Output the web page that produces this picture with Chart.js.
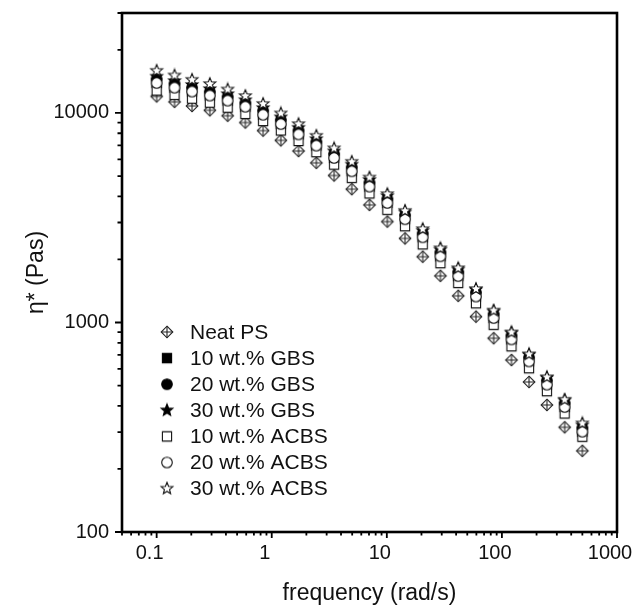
<!DOCTYPE html>
<html lang="en">
<head>
<meta charset="UTF-8">
<title>Complex viscosity vs frequency</title>
<script src="https://cdn.jsdelivr.net/npm/chart.js@4.4.1/dist/chart.umd.min.js"></script>
<style>
  html, body { margin: 0; padding: 0; background: #fff; }
  #wrap { width: 640px; height: 610px; }
</style>
</head>
<body>
<div id="wrap"><canvas id="chart"></canvas></div>
<script>
// frequency sweep (rad/s)
const frequency = [0.1, 0.143, 0.203, 0.29, 0.414, 0.59, 0.841, 1.2, 1.71, 2.44, 3.48, 4.96, 7.07,
                   10.1, 14.4, 20.5, 29.2, 41.7, 59.5, 84.8, 121, 172, 246, 351, 500];

// complex viscosity (Pa.s)
const neatPS   = [12000, 11300, 10800, 10300, 9700, 9000, 8240, 7400, 6580, 5780, 5030, 4330, 3640,
                  3030, 2520, 2060, 1670, 1340, 1066, 841, 662, 520, 404, 316, 244];
const gbs10    = [13900, 13200, 12650, 12100, 11450, 10700, 9800, 8850, 7900, 6980, 6100, 5270, 4450,
                  3720, 3110, 2550, 2070, 1665, 1330, 1050, 830, 652, 505, 395, 301];
const gbs20    = [14500, 13800, 13200, 12600, 11950, 11150, 10250, 9250, 8250, 7280, 6370, 5500, 4650,
                  3890, 3250, 2660, 2160, 1740, 1390, 1095, 865, 680, 528, 412, 314];
const gbs30    = [14900, 14200, 13600, 13000, 12300, 11500, 10550, 9530, 8500, 7500, 6560, 5670, 4790,
                  4010, 3350, 2740, 2225, 1790, 1430, 1128, 890, 700, 544, 424, 323];
const acbs10   = [12800, 12200, 11700, 11200, 10600, 9900, 9150, 8250, 7350, 6500, 5670, 4900, 4130,
                  3450, 2880, 2360, 1920, 1545, 1235, 975, 770, 605, 470, 368, 285];
const acbs20   = [13900, 13200, 12650, 12100, 11450, 10700, 9800, 8850, 7900, 6980, 6100, 5270, 4450,
                  3720, 3110, 2550, 2070, 1665, 1330, 1050, 830, 652, 505, 395, 301];
const acbs30   = [15900, 15100, 14400, 13750, 12950, 12050, 11050, 9950, 8850, 7780, 6780, 5850, 4920,
                  4100, 3410, 2790, 2260, 1815, 1445, 1140, 897, 705, 548, 428, 330];

const seriesNames = ['Neat PS', '10 wt.% GBS', '20 wt.% GBS', '30 wt.% GBS',
                     '10 wt.% ACBS', '20 wt.% ACBS', '30 wt.% ACBS'];
const seriesValues = [neatPS, gbs10, gbs20, gbs30, acbs10, acbs20, acbs30];

const xMajor = [0.1, 1, 10, 100, 1000];
const xTickLabels = ['0.1', '1', '10', '100', '1000'];
const yMajor = [100, 1000, 10000];
const yTickLabels = ['100', '1000', '10000'];

// marker images
function marker(kind, filled) {
  const c = document.createElement('canvas');
  c.width = 16; c.height = 16;
  const g = c.getContext('2d');
  g.translate(8, 8);
  g.lineWidth = 1.1;
  g.strokeStyle = filled ? '#000' : (kind === 'diamond' ? '#222' : '#111');
  g.fillStyle = filled ? '#000' : '#fff';
  g.beginPath();
  if (kind === 'diamond') {
    g.moveTo(0, -5.8); g.lineTo(5.8, 0); g.lineTo(0, 5.8); g.lineTo(-5.8, 0); g.closePath();
  } else if (kind === 'square') {
    g.rect(-4.6, -4.6, 9.2, 9.2);
  } else if (kind === 'circle') {
    g.arc(0, 0, 5.3, 0, Math.PI * 2);
  } else {
    for (let i = 0; i < 10; i++) {
      const r = i % 2 ? 2.7 : 6.2;
      const a = -Math.PI / 2 + i * Math.PI / 5;
      g.lineTo(r * Math.cos(a), r * Math.sin(a));
    }
    g.closePath();
  }
  g.fill();
  g.stroke();
  if (kind === 'diamond') {
    g.beginPath();
    g.moveTo(0, -5.8); g.lineTo(0, 5.8);
    g.moveTo(-5.8, 0); g.lineTo(5.8, 0);
    g.stroke();
  }
  return c;
}

const markers = [
  marker('diamond', false),
  marker('square', true),
  marker('circle', true),
  marker('star', true),
  marker('square', false),
  marker('circle', false),
  marker('star', false)
];

function logTicks(lo, hi) {
  const out = [];
  for (let e = Math.floor(Math.log10(lo)); e <= Math.ceil(Math.log10(hi)); e++) {
    for (let k = 1; k < 10; k++) {
      const v = +(k * Math.pow(10, e)).toPrecision(6);
      if (v >= lo && v <= hi) out.push(v);
    }
  }
  return out;
}

const frame = {
  id: 'frame',
  afterDraw(chart) {
    const { ctx, chartArea: a, scales } = chart;
    ctx.save();
    ctx.strokeStyle = '#000';
    ctx.lineWidth = 1.8;
    ctx.beginPath();
    scales.x.ticks.forEach(t => {
      const px = scales.x.getPixelForValue(t.value);
      ctx.moveTo(px, a.bottom);
      ctx.lineTo(px, a.bottom + (t.major ? 6 : 3.5));
    });
    scales.y.ticks.forEach(t => {
      const py = scales.y.getPixelForValue(t.value);
      ctx.moveTo(a.left, py);
      ctx.lineTo(a.left - (t.major ? 7 : 4.5), py);
    });
    ctx.stroke();
    ctx.lineWidth = 2.6;
    ctx.strokeRect(a.left, a.top, a.right - a.left, a.bottom - a.top);

    // legend inside the plot
    ctx.font = '21px "Liberation Sans", Arial, sans-serif';
    ctx.fillStyle = '#111';
    ctx.textBaseline = 'middle';
    ctx.textAlign = 'left';
    seriesNames.forEach((name, i) => {
      const y = 332 + i * 26.1;
      const m = markers[i];
      ctx.drawImage(m, 167 - m.width / 2, y - m.height / 2);
      ctx.fillText(name, 190, y + 1);
    });
    ctx.restore();
  }
};

Chart.defaults.font.family = '"Liberation Sans", Arial, sans-serif';
Chart.defaults.color = '#111';

new Chart(document.getElementById('chart'), {
  type: 'scatter',
  data: {
    datasets: seriesValues.map((vals, i) => ({
      label: seriesNames[i],
      data: frequency.map((f, j) => ({ x: f, y: vals[j] })),
      pointStyle: markers[i],
      pointRadius: 5,
      showLine: false,
      order: seriesValues.length - i
    }))
  },
  options: {
    responsive: true,
    maintainAspectRatio: false,
    animation: false,
    layout: { padding: { left: 0, right: 23, top: 13, bottom: 0 } },
    plugins: { legend: { display: false }, tooltip: { enabled: false } },
    scales: {
      x: {
        type: 'logarithmic',
        min: 0.05,
        max: 1000,
        grid: { display: false, drawTicks: false },
        border: { display: false },
        afterBuildTicks: s => {
          s.ticks = logTicks(0.05, 1000).map(v => ({ value: v, major: xMajor.includes(v) }));
        },
        afterFit: s => {
          s.height = 78;
          s.paddingLeft = 0; s.paddingRight = 0;
        },
        ticks: {
          autoSkip: false,
          maxRotation: 0,
          padding: 9,
          labelOffset: -7,
          font: { size: 20 },
          callback: v => { const i = xMajor.indexOf(v); return i >= 0 ? xTickLabels[i] : ''; }
        },
        title: {
          display: true,
          text: 'frequency (rad/s)',
          font: { size: 23 },
          padding: { top: 0, bottom: 3 }
        }
      },
      y: {
        type: 'logarithmic',
        min: 100,
        max: 30000,
        grid: { display: false, drawTicks: false },
        border: { display: false },
        afterBuildTicks: s => {
          s.ticks = logTicks(100, 30000).map(v => ({ value: v, major: yMajor.includes(v) }));
        },
        afterFit: s => {
          s.width = 122;
          s.paddingTop = 0; s.paddingBottom = 0;
        },
        ticks: {
          autoSkip: false,
          padding: 13,
          font: { size: 20 },
          callback: v => { const i = yMajor.indexOf(v); return i >= 0 ? yTickLabels[i] : ''; }
        },
        title: {
          display: true,
          text: 'η* (Pas)',
          font: { size: 23 },
          padding: { top: 23, bottom: 0 }
        }
      }
    }
  },
  plugins: [frame]
});
</script>
</body>
</html>
